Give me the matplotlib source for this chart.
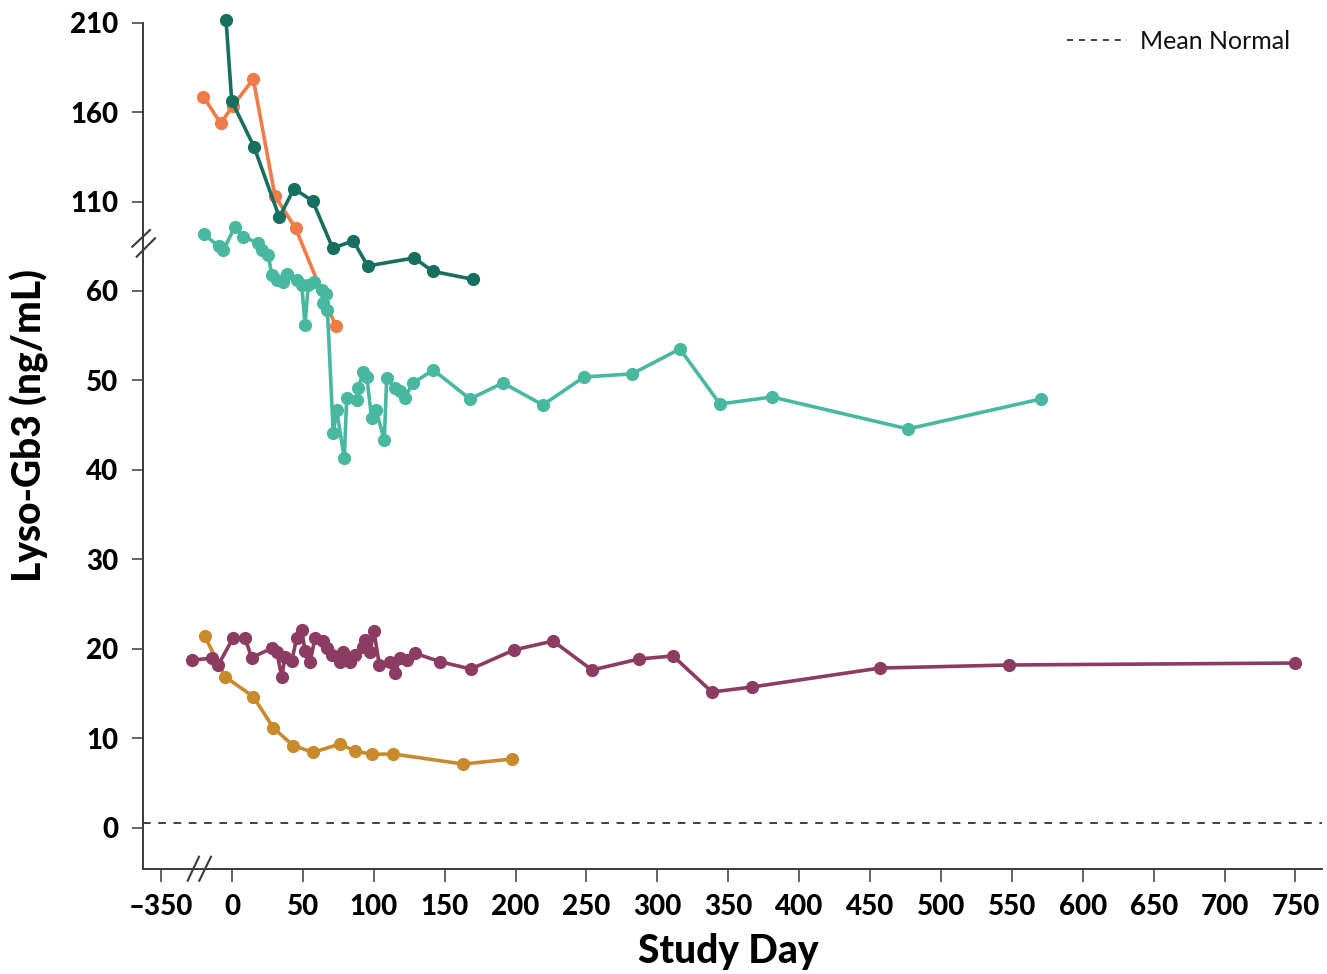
import numpy as np
import matplotlib
matplotlib.use('Agg')
import matplotlib.pyplot as plt
from matplotlib.lines import Line2D

# ---------------- data ----------------
dark_x = [-4.2, -0.2, 15.5, 33.4, 43.7, 56.9, 71.0, 85.6, 95.7, 128.6, 141.5, 170.2]
dark_y = [211.5, 166.2, 140.7, 101.2, 117.2, 110.3, 64.8, 65.6, 62.8, 63.7, 62.2, 61.3]

orange_x = [-20.2, -8.0, 0.5, 15.0, 30.3, 44.9, 73.1]
orange_y = [168.6, 153.7, 163.4, 178.5, 113.1, 95.0, 56.1]

teal_x = [-19.7, -9.5, -6.0, 2.1, 8.0, 18.5, 20.9, 25.6, 28.0, 31.5, 36.2, 38.6,
          45.6, 49.2, 51.5, 53.8, 57.8, 63.3, 64.4, 66.3, 67.3, 71.4, 73.8, 79.2,
          80.9, 87.9, 89.1, 92.6, 95.0, 98.5, 101.6, 107.4, 109.1, 115.0, 118.5,
          122.0, 127.4, 142.0, 167.8, 191.1, 219.3, 248.2, 282.1, 315.9, 344.1,
          380.8, 476.7, 570.5]
teal_y = [91.7, 65.0, 64.6, 96.0, 90.4, 65.33, 64.58, 64.03, 61.79, 61.23, 61.04, 61.87,
          61.23, 60.67, 56.20, 60.67, 61.04, 60.11, 58.62, 59.63, 57.88, 44.09, 46.70, 41.30,
          48.07, 47.81, 49.19, 50.98, 50.42, 45.77, 46.70, 43.34, 50.31, 49.12, 48.82,
          48.07, 49.68, 51.17, 47.93, 49.72, 47.26, 50.39, 50.73, 53.52, 47.37,
          48.15, 44.58, 47.93]

purple_x = [-28.4, -14.3, -9.7, 0.9, 9.2, 13.9, 28.0, 31.5, 35.1, 37.4, 42.1, 45.6,
            49.2, 51.5, 55.0, 58.5, 64.2, 66.8, 70.3, 76.2, 78.5, 83.2, 86.7, 92.6,
            93.8, 97.3, 100.1, 103.9, 111.4, 115.0, 118.5, 123.2, 129.1, 146.7, 168.5,
            198.9, 226.4, 253.9, 287.0, 311.0, 338.5, 366.7, 457.0, 548.0, 749.6]
purple_y = [18.75, 18.94, 18.19, 21.24, 21.17, 19.01, 20.06, 19.68, 16.88, 19.12, 18.64, 21.17,
            22.10, 19.75, 18.47, 21.17, 20.87, 20.06, 19.31, 18.56, 19.68, 18.56, 19.31, 20.23,
            20.98, 19.68, 21.99, 18.19, 18.56, 17.26, 18.94, 18.75, 19.50, 18.56, 17.74,
            19.87, 20.87, 17.63, 18.86, 19.20, 15.17, 15.73, 17.85, 18.19, 18.41]

gold_x = [-19.3, -4.9, 15.0, 29.1, 43.2, 57.3, 76.2, 86.7, 98.5, 113.8, 162.9, 197.5]
gold_y = [21.43, 16.88, 14.65, 11.18, 9.17, 8.43, 9.36, 8.57, 8.21, 8.24, 7.12, 7.68]

mean_normal = 0.5

x_ticks = [-350, 0, 50, 100, 150, 200, 250, 300, 350, 400, 450, 500, 550, 600, 650, 700, 750]
x_tick_labels = ['\u2013350', '0', '50', '100', '150', '200', '250', '300', '350', '400',
                 '450', '500', '550', '600', '650', '700', '750']
y_ticks = [0, 10, 20, 30, 40, 50, 60, 110, 160, 210]
y_tick_labels = ['0', '10', '20', '30', '40', '50', '60', '110', '160', '210']

# ---------------- style ----------------
plt.rcParams['font.family'] = ['Lato', 'DejaVu Sans']
plt.rcParams['lines.scale_dashes'] = False

C_DARK = '#17705f'
C_ORANGE = '#ef7b48'
C_TEAL = '#48b9a0'
C_PURPLE = '#8c3c63'
C_GOLD = '#c98a2e'
C_AXIS = '#3a3a3a'
HEAVY = 'black'

W, H = 1327, 974
fig = plt.figure(figsize=(W / 100, H / 100), dpi=100)
ax_l, ax_b, ax_r, ax_t = 143.3, 869.3, 1321.7, 12.0
ax = fig.add_axes([ax_l / W, (H - ax_b) / H, (ax_r - ax_l) / W, (ax_b - ax_t) / H])

# broken axes via piecewise-linear function scales
y_xp = [-1000.0, 65.8, 89.5, 1000.0]
y_fp = [-1000.0, 65.8, 65.9, 248.0]
x_xp = [-10000.0, -350.0, -40.0, 10000.0]
x_fp = [-9700.1, -50.1, -40.0, 10000.0]


def yfwd(v):
    return np.interp(np.asarray(v, dtype=float), y_xp, y_fp)


def yinv(f):
    return np.interp(np.asarray(f, dtype=float), y_fp, y_xp)


def xfwd(v):
    return np.interp(np.asarray(v, dtype=float), x_xp, x_fp)


def xinv(f):
    return np.interp(np.asarray(f, dtype=float), x_fp, x_xp)


ax.set_xscale('function', functions=(xfwd, xinv))
ax.set_yscale('function', functions=(yfwd, yinv))

lw, ms = 2.6, 9.5
series = [
    (gold_x, gold_y, C_GOLD, 3),
    (purple_x, purple_y, C_PURPLE, 4),
    (orange_x, orange_y, C_ORANGE, 5),
    (teal_x, teal_y, C_TEAL, 6),
    (dark_x, dark_y, C_DARK, 7),
]
for xs, ys, c, z in series:
    ax.plot(xs, ys, '-o', color=c, lw=lw, ms=ms, mew=0, zorder=z, clip_on=False)

ax.axhline(mean_normal, color='#333333', lw=1.3, dashes=(5.5, 5.5), zorder=2)

ax.set_xlim(-362.45, 768.5)
ax.set_ylim(-4.65, 215.95)

ax.set_xticks(x_ticks)
ax.set_xticklabels(x_tick_labels, fontsize=20, fontweight=HEAVY)
ax.set_yticks(y_ticks)
ax.set_yticklabels(y_tick_labels, fontsize=20, fontweight=HEAVY)
ax.xaxis.set_minor_locator(matplotlib.ticker.NullLocator())
ax.yaxis.set_minor_locator(matplotlib.ticker.NullLocator())
ax.tick_params(axis='x', length=9, width=1.1, color=C_AXIS, pad=9)
ax.tick_params(axis='y', length=8, width=1.1, color=C_AXIS, pad=10)

for s in ['top', 'right']:
    ax.spines[s].set_visible(False)
for s in ['left', 'bottom']:
    ax.spines[s].set_color(C_AXIS)
    ax.spines[s].set_linewidth(1.4)
ax.spines['left'].set_bounds(-4.65, 210)

ax.set_ylabel('Lyso-Gb3 (ng/mL)', fontsize=28, fontweight=HEAVY)
ax.yaxis.set_label_coords(-0.0800, 0.518)
ax.set_xlabel('Study Day', fontsize=28, fontweight=HEAVY)
ax.xaxis.set_label_coords(0.496, -0.0740)

handle = Line2D([], [], color='#333333', lw=1.3, dashes=(4.3, 4.3))
leg = ax.legend(handles=[handle], labels=['Mean Normal'], loc='center right',
                bbox_to_anchor=(0.973, 0.966), frameon=False, fontsize=18,
                handlelength=2.4, handletextpad=0.5, borderpad=0, borderaxespad=0)
for t in leg.get_texts():
    t.set_color('#111111')


# axis-break decorations (figure pixel coordinates)
def px_line(x0, y0, x1, y1):
    fig.add_artist(Line2D([x0 / W, x1 / W], [1 - y0 / H, 1 - y1 / H],
                          transform=fig.transFigure, color=C_AXIS, lw=1.5))


px_line(132.3, 246.7, 150.0, 230.0)
px_line(136.7, 256.7, 155.0, 238.3)
px_line(187.7, 880.7, 199.0, 856.7)
px_line(199.3, 880.7, 211.0, 856.7)

fig.savefig('out.png', dpi=100)
